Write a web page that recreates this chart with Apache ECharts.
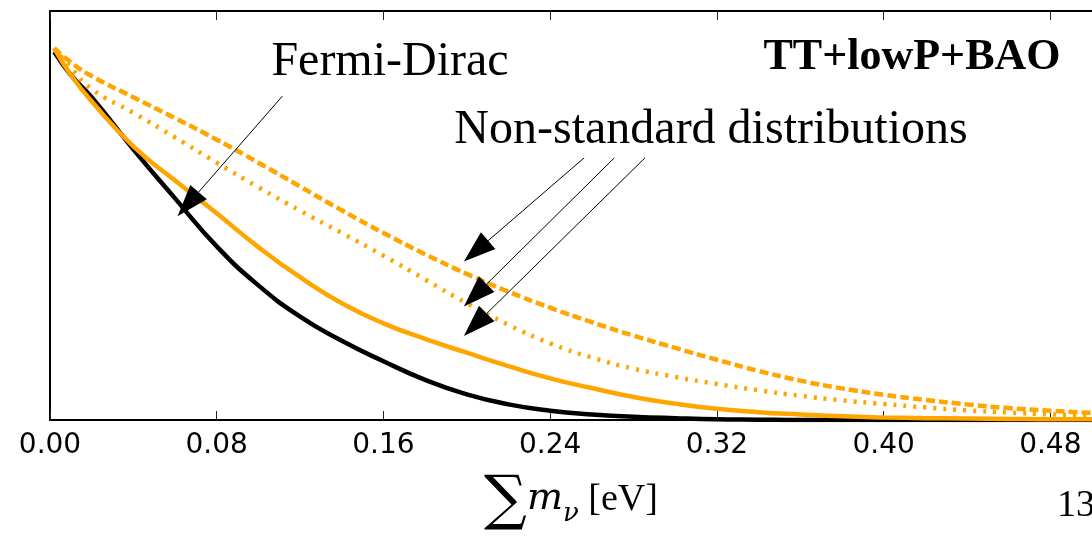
<!DOCTYPE html>
<html><head><meta charset="utf-8">
<script src="https://cdn.jsdelivr.net/npm/echarts@6/dist/echarts.min.js"></script>
<style>html,body{margin:0;padding:0;background:#fff}#c{width:1092px;height:537px}</style>
</head><body><div id="c"></div>
<script>
// Sum of neutrino masses (eV) sample points
const massGrid = [0.002, 0.01, 0.02, 0.04, 0.06, 0.08, 0.10, 0.12, 0.14, 0.16, 0.18, 0.20, 0.22, 0.24, 0.26, 0.28, 0.30, 0.32, 0.34, 0.36, 0.38, 0.40, 0.42, 0.44, 0.46, 0.48, 0.50];
// Posterior curves (normalised)
const fermiDirac   = [0.99, 0.928, 0.868, 0.728, 0.596, 0.467, 0.362, 0.278, 0.213, 0.158, 0.108, 0.069, 0.042, 0.025, 0.015, 0.009, 0.005, 0.002, 0.001, 0, 0, 0, 0, 0, 0, 0, 0];
const nonStdSolid  = [1.0, 0.928, 0.857, 0.736, 0.644, 0.556, 0.465, 0.384, 0.314, 0.26, 0.218, 0.181, 0.145, 0.112, 0.086, 0.062, 0.044, 0.03, 0.021, 0.015, 0.01, 0.007, 0.005, 0.004, 0.003, 0.002, 0.002];
const nonStdDashed = [1.0, 0.962, 0.925, 0.868, 0.812, 0.754, 0.692, 0.628, 0.564, 0.503, 0.446, 0.393, 0.345, 0.302, 0.263, 0.227, 0.194, 0.162, 0.132, 0.106, 0.085, 0.068, 0.054, 0.042, 0.032, 0.025, 0.019];
const nonStdDotted = [1.0, 0.948, 0.89, 0.826, 0.76, 0.692, 0.626, 0.563, 0.503, 0.442, 0.378, 0.314, 0.256, 0.206, 0.168, 0.138, 0.116, 0.097, 0.08, 0.065, 0.053, 0.043, 0.034, 0.026, 0.02, 0.015, 0.012];
// Tick labels
const xTickLabels = ['0.00', '0.08', '0.16', '0.24', '0.32', '0.40', '0.48'];
// Annotation arrows in data units: [from, to]
const arrowFermi = [[0.1115, 0.871], [0.0612, 0.548]];
const arrowsNonStd = [
  [[0.2563, 0.705], [0.1986, 0.426]],
  [[0.2708, 0.705], [0.1986, 0.305]],
  [[0.2855, 0.705], [0.1986, 0.226]]
];

const ORANGE = '#FFA500';
function pairs(ys) { return massGrid.map((x, i) => [x, ys[i]]); }

const chart = echarts.init(document.getElementById('c'), null, { renderer: 'canvas' });
const axisLineStyle = { color: '#000', width: 2 };
const tickStyle = { show: true, inside: true, length: 9, lineStyle: { color: '#222', width: 1 } };

chart.setOption({
  animation: false,
  backgroundColor: '#fff',
  grid: { left: 50, top: 11, width: 1045, height: 413 },
  xAxis: [{
    type: 'value', min: 0, max: 0.5, interval: 0.08, position: 'bottom',
    axisLine: { show: true, onZero: false, lineStyle: axisLineStyle },
    axisTick: tickStyle,
    splitLine: { show: false },
    axisLabel: {
      margin: 12, fontFamily: 'DejaVu Sans', fontSize: 28, color: '#000',
      showMaxLabel: false,
      formatter: v => xTickLabels[Math.round(v / 0.08)] || ''
    },
    name: '{s|∑}{m|m}{n|ν}{u| [eV]}',
    nameLocation: 'middle', nameGap: 52,
    nameTextStyle: {
      rich: {
        s: { fontFamily: 'DejaVu Serif', fontSize: 60, lineHeight: 60, verticalAlign: 'bottom', padding: [0, 0, 0, 0], color: '#000' },
        m: { fontFamily: 'DejaVu Serif', fontStyle: 'italic', fontSize: 38, lineHeight: 38, verticalAlign: 'bottom', padding: [0, 0, 14, 0], color: '#000' },
        n: { fontFamily: 'DejaVu Serif', fontStyle: 'italic', fontSize: 26, lineHeight: 26, verticalAlign: 'bottom', padding: [0, 0, 5, 0], color: '#000' },
        u: { fontFamily: 'Liberation Serif', fontSize: 38, lineHeight: 38, verticalAlign: 'bottom', padding: [0, 0, 13, 0], color: '#000' }
      }
    }
  }, {
    type: 'value', min: 0, max: 0.5, interval: 0.08, position: 'top',
    axisLine: { show: true, onZero: false, lineStyle: axisLineStyle },
    axisTick: tickStyle,
    axisLabel: { show: false },
    splitLine: { show: false }
  }],
  yAxis: {
    type: 'value', min: 0, max: 1.1,
    axisLine: { show: true, onZero: false, lineStyle: axisLineStyle },
    axisTick: { show: false }, axisLabel: { show: false }, splitLine: { show: false }
  },
  series: [
    { name: 'Fermi-Dirac', type: 'line', data: pairs(fermiDirac), showSymbol: false, smooth: 0.5,
      lineStyle: { color: '#000', width: 4.5 }, z: 3 },
    { name: 'Non-standard (solid)', type: 'line', data: pairs(nonStdSolid), showSymbol: false, smooth: 0.5,
      lineStyle: { color: ORANGE, width: 4.5 }, z: 4 },
    { name: 'Non-standard (dashed)', type: 'line', data: pairs(nonStdDashed), showSymbol: false, smooth: 0.5,
      lineStyle: { color: ORANGE, width: 4.5, type: [9, 4] }, z: 4 },
    { name: 'Non-standard (dotted)', type: 'line', data: pairs(nonStdDotted), showSymbol: false, smooth: 0.5,
      lineStyle: { color: ORANGE, width: 4.5, type: [3, 7] }, z: 4 }
  ]
});

function arrowGraphics(from, to) {
  const p0 = chart.convertToPixel({ gridIndex: 0 }, from);
  const p1 = chart.convertToPixel({ gridIndex: 0 }, to);
  const dx = p1[0] - p0[0], dy = p1[1] - p0[1];
  const len = Math.sqrt(dx * dx + dy * dy);
  const ux = dx / len, uy = dy / len;
  const headL = 32, headW = 22;
  const bx = p1[0] - ux * headL, by = p1[1] - uy * headL;
  const nx = -uy, ny = ux;
  return [
    { type: 'line', shape: { x1: p0[0], y1: p0[1], x2: bx, y2: by }, style: { stroke: '#000', lineWidth: 1 }, z: 10 },
    { type: 'polygon', shape: { points: [[p1[0], p1[1]], [bx + nx * headW / 2, by + ny * headW / 2], [bx - nx * headW / 2, by - ny * headW / 2]] },
      style: { fill: '#000' }, z: 10 }
  ];
}

let g = [];
g = g.concat(arrowGraphics(arrowFermi[0], arrowFermi[1]));
arrowsNonStd.forEach(a => { g = g.concat(arrowGraphics(a[0], a[1])); });
g.push(
  { type: 'text', style: { text: 'Fermi-Dirac', x: 390, y: 62, font: '48px "Liberation Serif"', fill: '#000', align: 'center', verticalAlign: 'middle', textAlign: 'center', textVerticalAlign: 'middle' }, z: 11 },
  { type: 'text', style: { text: 'TT+lowP+BAO', x: 912, y: 58, font: 'bold 44px "Liberation Serif"', fill: '#000', align: 'center', verticalAlign: 'middle', textAlign: 'center', textVerticalAlign: 'middle' }, z: 11 },
  { type: 'text', style: { text: 'Non-standard distributions', x: 711, y: 130, font: '48px "Liberation Serif"', fill: '#000', align: 'center', verticalAlign: 'middle', textAlign: 'center', textVerticalAlign: 'middle' }, z: 11 },
  { type: 'text', style: { text: '13', x: 1057, y: 506, font: '38px "Liberation Serif"', fill: '#000', align: 'left', verticalAlign: 'middle', textAlign: 'left', textVerticalAlign: 'middle' }, z: 11 }
);
chart.setOption({ graphic: g });
</script>
</body></html>
